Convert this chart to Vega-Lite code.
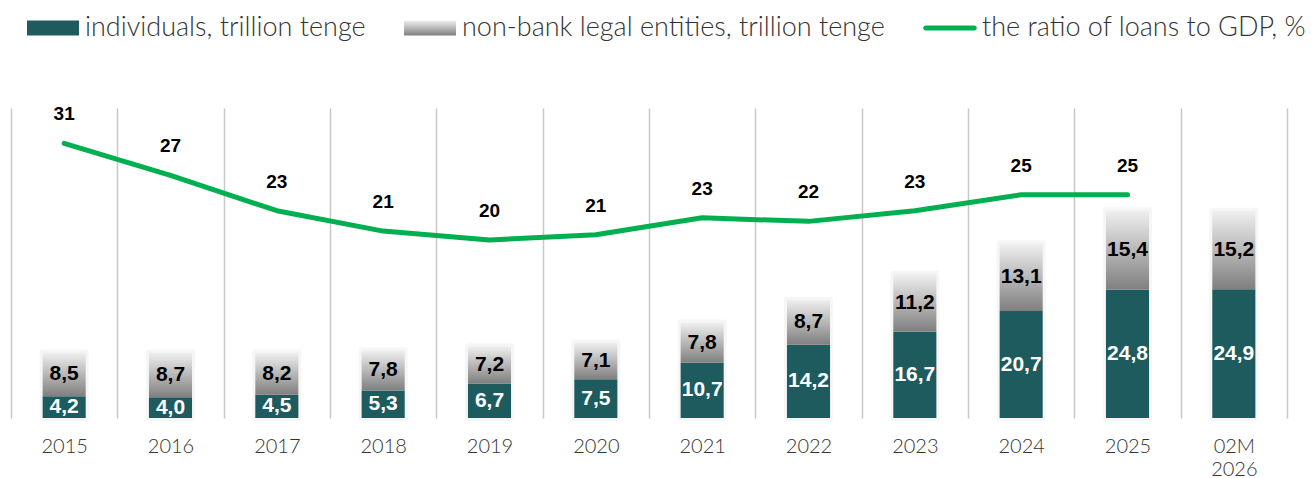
{
  "$schema": "https://vega.github.io/schema/vega-lite/v6.json",
  "width": 1276,
  "height": 310,
  "autosize": {"type": "none"},
  "padding": {"left": 11, "top": 108, "right": 27, "bottom": 60},
  "background": "white",
  "config": {
    "view": {"stroke": null},
    "locale": {"number": {"decimal": ",", "thousands": " ", "grouping": [3], "currency": ["", ""]}}
  },
  "datasets": {
    "bars": [
      {"period": "2015", "series": "individuals, trillion tenge", "value": 4.2},
      {"period": "2015", "series": "non-bank legal entities, trillion tenge", "value": 8.5},
      {"period": "2016", "series": "individuals, trillion tenge", "value": 4.0},
      {"period": "2016", "series": "non-bank legal entities, trillion tenge", "value": 8.7},
      {"period": "2017", "series": "individuals, trillion tenge", "value": 4.5},
      {"period": "2017", "series": "non-bank legal entities, trillion tenge", "value": 8.2},
      {"period": "2018", "series": "individuals, trillion tenge", "value": 5.3},
      {"period": "2018", "series": "non-bank legal entities, trillion tenge", "value": 7.8},
      {"period": "2019", "series": "individuals, trillion tenge", "value": 6.7},
      {"period": "2019", "series": "non-bank legal entities, trillion tenge", "value": 7.2},
      {"period": "2020", "series": "individuals, trillion tenge", "value": 7.5},
      {"period": "2020", "series": "non-bank legal entities, trillion tenge", "value": 7.1},
      {"period": "2021", "series": "individuals, trillion tenge", "value": 10.7},
      {"period": "2021", "series": "non-bank legal entities, trillion tenge", "value": 7.8},
      {"period": "2022", "series": "individuals, trillion tenge", "value": 14.2},
      {"period": "2022", "series": "non-bank legal entities, trillion tenge", "value": 8.7},
      {"period": "2023", "series": "individuals, trillion tenge", "value": 16.7},
      {"period": "2023", "series": "non-bank legal entities, trillion tenge", "value": 11.2},
      {"period": "2024", "series": "individuals, trillion tenge", "value": 20.7},
      {"period": "2024", "series": "non-bank legal entities, trillion tenge", "value": 13.1},
      {"period": "2025", "series": "individuals, trillion tenge", "value": 24.8},
      {"period": "2025", "series": "non-bank legal entities, trillion tenge", "value": 15.4},
      {"period": "02M 2026", "series": "individuals, trillion tenge", "value": 24.9},
      {"period": "02M 2026", "series": "non-bank legal entities, trillion tenge", "value": 15.2}
    ],
    "ratio": [
      {"period": "2015", "series": "the ratio of loans to GDP, %", "value": 31.0},
      {"period": "2016", "series": "the ratio of loans to GDP, %", "value": 27.4},
      {"period": "2017", "series": "the ratio of loans to GDP, %", "value": 23.4},
      {"period": "2018", "series": "the ratio of loans to GDP, %", "value": 21.1},
      {"period": "2019", "series": "the ratio of loans to GDP, %", "value": 20.1},
      {"period": "2020", "series": "the ratio of loans to GDP, %", "value": 20.7},
      {"period": "2021", "series": "the ratio of loans to GDP, %", "value": 22.6},
      {"period": "2022", "series": "the ratio of loans to GDP, %", "value": 22.2},
      {"period": "2023", "series": "the ratio of loans to GDP, %", "value": 23.4},
      {"period": "2024", "series": "the ratio of loans to GDP, %", "value": 25.2},
      {"period": "2025", "series": "the ratio of loans to GDP, %", "value": 25.2}
    ]
  },
  "layer": [
    {
      "data": {"name": "bars"},
      "transform": [
        {"stack": "value", "groupby": ["period"], "sort": [{"field": "series", "order": "ascending"}], "as": ["v0", "v1"]},
        {"filter": "datum.series === 'non-bank legal entities, trillion tenge'"}
      ],
      "mark": {"type": "bar", "width": {"band": 0.405}, "fill": "#FFFFFF", "fillOpacity": 0, "stroke": "#000000", "strokeOpacity": 0.035, "strokeWidth": 6, "strokeJoin": "round"},
      "encoding": {
        "x": {
          "field": "period", "type": "nominal",
          "scale": {"domain": ["2015","2016","2017","2018","2019","2020","2021","2022","2023","2024","2025","02M 2026"], "paddingInner": 0, "paddingOuter": 0},
          "axis": {
            "title": null, "tickBand": "extent", "grid": true, "gridColor": "#C8C8C8", "gridWidth": 1.5,
            "domain": false, "ticks": false, "tickSize": 0, "labelAngle": 0,
            "labelFont": "Lato", "labelFontSize": 20, "labelFontWeight": 300, "labelColor": "#333333",
            "labelPadding": 18, "labelExpr": "split(datum.label, ' ')", "labelLineHeight": 23
          }
        },
        "y": {"field": "v1", "type": "quantitative", "scale": {"domain": [0, 60]}, "axis": null}
      }
    },
    {
      "data": {"name": "bars"},
      "transform": [
        {"stack": "value", "groupby": ["period"], "sort": [{"field": "series", "order": "ascending"}], "as": ["v0", "v1"]},
        {"filter": "datum.series === 'individuals, trillion tenge'"}
      ],
      "mark": {"type": "bar", "width": {"band": 0.405}, "color": "#1E5B5F"},
      "encoding": {
        "x": {"field": "period", "type": "nominal"},
        "y": {"field": "v0", "type": "quantitative", "scale": {"domain": [0, 60]}, "axis": null},
        "y2": {"field": "v1"}
      }
    },
    {
      "data": {"name": "bars"},
      "transform": [
        {"stack": "value", "groupby": ["period"], "sort": [{"field": "series", "order": "ascending"}], "as": ["v0", "v1"]},
        {"filter": "datum.series === 'non-bank legal entities, trillion tenge'"}
      ],
      "mark": {
        "type": "bar", "width": {"band": 0.405},
        "color": {"gradient": "linear", "x1": 0, "y1": 0, "x2": 0, "y2": 1, "stops": [{"offset": 0, "color": "#F0F0F0"}, {"offset": 1, "color": "#7F7F7F"}]}
      },
      "encoding": {
        "x": {"field": "period", "type": "nominal"},
        "y": {"field": "v0", "type": "quantitative", "scale": {"domain": [0, 60]}, "axis": null},
        "y2": {"field": "v1"}
      }
    },
    {
      "data": {"name": "bars"},
      "transform": [
        {"stack": "value", "groupby": ["period"], "sort": [{"field": "series", "order": "ascending"}], "as": ["v0", "v1"]},
        {"calculate": "(datum.v0 + datum.v1) / 2", "as": "mid"}
      ],
      "mark": {"type": "text", "font": "Liberation Sans", "fontSize": 21, "fontWeight": "bold", "baseline": "middle"},
      "encoding": {
        "x": {"field": "period", "type": "nominal"},
        "y": {"field": "mid", "type": "quantitative", "scale": {"domain": [0, 60]}, "axis": null},
        "text": {"field": "value", "type": "quantitative", "format": ".1f"},
        "color": {"condition": {"test": "datum.series === 'individuals, trillion tenge'", "value": "#FFFFFF"}, "value": "#000000"}
      }
    },
    {
      "data": {"name": "ratio"},
      "mark": {"type": "line", "strokeWidth": 5, "strokeCap": "round", "strokeJoin": "round"},
      "encoding": {
        "x": {"field": "period", "type": "nominal"},
        "y": {"field": "value", "type": "quantitative", "scale": {"domain": [0, 35]}, "axis": null},
        "color": {
          "field": "series", "type": "nominal",
          "scale": {
            "domain": ["individuals, trillion tenge", "non-bank legal entities, trillion tenge", "the ratio of loans to GDP, %"],
            "range": ["#1E5B5F", "#B0B0B0", "#00B050"]
          },
          "legend": {
            "title": null, "orient": "none", "legendX": 16, "legendY": -106, "direction": "horizontal",
            "symbolType": "M-1,-0.29H1V0.29H-1Z", "symbolSize": 2704, "symbolStrokeWidth": 0, "symbolOpacity": 1,
            "labelFont": "Lato", "labelFontSize": 27, "labelFontWeight": 300, "labelColor": "#333333",
            "labelOffset": 6, "columnPadding": 38, "labelLimit": 0, "padding": 0,
            "encoding": {
              "symbols": {
                "shape": {
                  "condition": {"test": "datum.value === 'the ratio of loans to GDP, %'", "value": "M-0.93,-0.1H0.93A0.1,0.1 0 0 1 0.93,0.1H-0.93A0.1,0.1 0 0 1 -0.93,-0.1Z"},
                  "value": "M-1,-0.29H1V0.29H-1Z"
                },
                "fill": {
                  "condition": [
                    {"test": "datum.value === 'individuals, trillion tenge'", "value": "#1E5B5F"},
                    {"test": "datum.value === 'non-bank legal entities, trillion tenge'", "value": {"gradient": "linear", "x1": 0, "y1": 0, "x2": 0, "y2": 1, "stops": [{"offset": 0, "color": "#F0F0F0"}, {"offset": 1, "color": "#7F7F7F"}]}}
                  ],
                  "value": "#00B050"
                }
              }
            }
          }
        }
      }
    },
    {
      "data": {"name": "ratio"},
      "mark": {"type": "text", "dy": -29, "font": "Liberation Sans", "fontSize": 19, "fontWeight": "bold", "color": "#000000", "baseline": "middle"},
      "encoding": {
        "x": {"field": "period", "type": "nominal"},
        "y": {"field": "value", "type": "quantitative", "scale": {"domain": [0, 35]}, "axis": null},
        "text": {"field": "value", "type": "quantitative", "format": ".0f"}
      }
    }
  ],
  "resolve": {"scale": {"y": "independent"}}
}
